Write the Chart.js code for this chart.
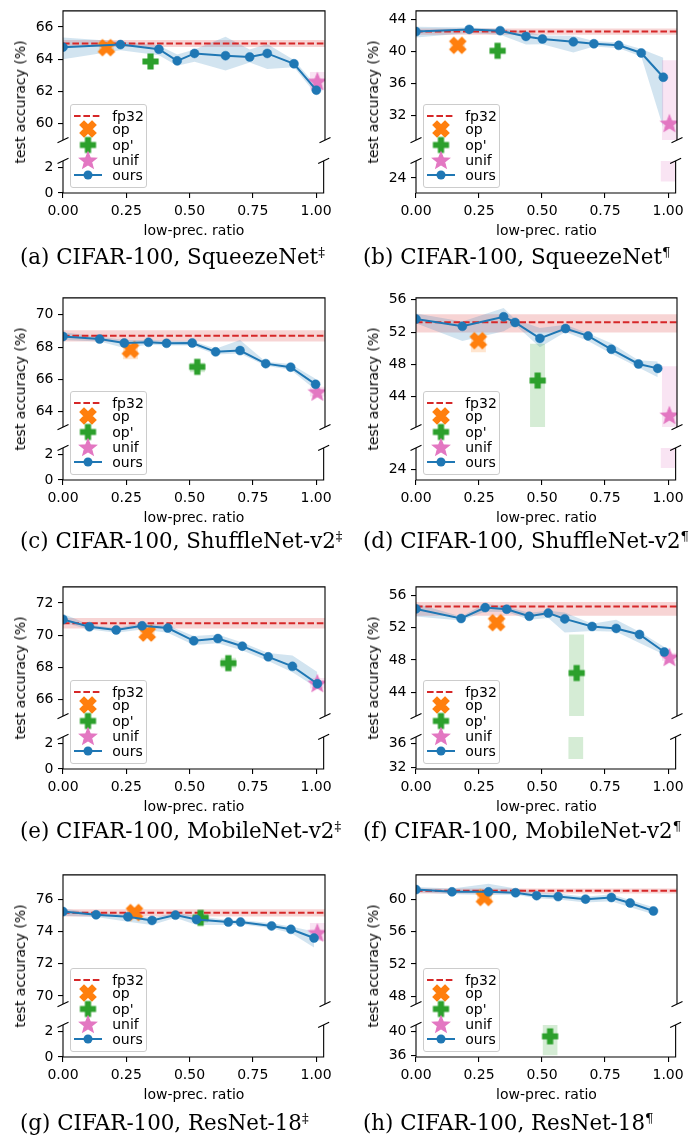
<!DOCTYPE html>
<html>
<head>
<meta charset="utf-8">
<script src="https://cdn.jsdelivr.net/npm/chart.js@4.4.1/dist/chart.umd.min.js"></script>
<style>
html,body{margin:0;padding:0;background:#fff;}
#fig{position:relative;width:690px;height:1141px;overflow:hidden;background:#fff;}
#fig canvas{position:absolute;}
.lbl{position:absolute;font-family:"DejaVu Sans";font-size:14px;color:#000;white-space:nowrap;line-height:1;}
.cap{position:absolute;font-family:"DejaVu Serif";white-space:nowrap;line-height:1;color:#000;}
.cap sup{font-size:0.62em;vertical-align:0.55em;line-height:0;}
.leg{position:absolute;border:1px solid #cccccc;border-radius:3px;background:rgba(255,255,255,0.8);box-sizing:border-box;}
.leg span{position:absolute;font-family:"DejaVu Sans";font-size:14px;line-height:16px;white-space:nowrap;color:#000;}
.leg canvas{position:absolute !important;}
</style>
</head>
<body>
<div id="fig"></div>
<script>
// ---------------- data ----------------
const XMIN = 0, XMAX = 1.03;
const xTicks = [0, 0.25, 0.5, 0.75, 1.0];
const legendLabels = ['fp32', 'op', "op'", 'unif', 'ours'];
const captionTexts = ['(a) CIFAR-100, SqueezeNet', '(b) CIFAR-100, SqueezeNet',
  '(c) CIFAR-100, ShuffleNet-v2', '(d) CIFAR-100, ShuffleNet-v2',
  '(e) CIFAR-100, MobileNet-v2', '(f) CIFAR-100, MobileNet-v2',
  '(g) CIFAR-100, ResNet-18', '(h) CIFAR-100, ResNet-18'];
const captionMarks = ['\u2021', '\u00b6', '\u2021', '\u00b6', '\u2021', '\u00b6', '\u2021', '\u00b6'];
const yTitle = 'test accuracy (%)';
const xTitle = 'low-prec. ratio';

// (a) SqueezeNet ‡
const ratioA  = [0, 0.226, 0.377, 0.449, 0.517, 0.639, 0.734, 0.803, 0.908, 0.996];
const oursA   = [64.75, 64.91, 64.62, 63.90, 64.36, 64.22, 64.14, 64.36, 63.72, 62.08];
const oursLoA = [64.0, 64.55, 64.25, 63.6, 63.85, 63.3, 63.8, 63.4, 63.5, 61.8];
const oursHiA = [65.35, 65.1, 64.85, 64.3, 64.6, 65.4, 64.6, 64.95, 63.95, 62.35];
const fp32A   = [64.98, 64.76, 65.2];          // mean, lo, hi
const opA     = [0.171, 64.72, 64.55, 64.9];   // x, y, lo, hi
const opPA    = [0.344, 63.86, 63.75, 63.97];
const unifA   = [1.0, 62.64, 62.1, 63.2];
const topRangeA = [58.98, 67.0], botRangeA = [0, 2.5];
const topTicksA = [60, 62, 64, 66], botTicksA = [0, 2];

// (b) SqueezeNet ¶
const ratioB  = [0, 0.21, 0.332, 0.434, 0.499, 0.621, 0.702, 0.80, 0.889, 0.976];
const oursB   = [42.48, 42.76, 42.6, 41.88, 41.56, 41.2, 40.96, 40.76, 39.8, 36.76];
const oursLoB = [41.75, 42.3, 42.1, 40.85, 40.9, 39.85, 40.6, 40.4, 39.35, 30.4];
const oursHiB = [43.1, 43.0, 42.85, 42.5, 42.0, 41.95, 41.3, 41.1, 40.3, 39.2];
const fp32B   = [42.48, 42.08, 42.88];
const opB     = [0.165, 40.76, 40.5, 41.0];
const opPB    = [0.322, 40.08, 39.9, 40.25];
const unifB   = [1.0, 31.0, 23.5, 38.9];
const topRangeB = [28.87, 45.08], botRangeB = [21.9, 26.4];
const topTicksB = [32, 36, 40, 44], botTicksB = [24];

// (c) ShuffleNet-v2 ‡
const ratioC  = [0, 0.144, 0.241, 0.336, 0.407, 0.508, 0.600, 0.696, 0.797, 0.895, 0.993];
const oursC   = [68.66, 68.5, 68.26, 68.30, 68.24, 68.26, 67.71, 67.79, 66.98, 66.76, 65.70];
const oursLoC = [68.45, 68.35, 67.95, 68.15, 68.1, 68.1, 67.55, 67.6, 66.85, 66.6, 65.35];
const oursHiC = [68.93, 68.65, 68.45, 68.45, 68.4, 68.4, 67.9, 68.45, 67.1, 66.95, 66.05];
const fp32C   = [68.70, 68.35, 69.05];
const opC     = [0.265, 67.85, 67.25, 68.25];
const opPC    = [0.528, 66.78, 66.45, 67.05];
const unifC   = [1.0, 65.24, 64.95, 65.55];
const topRangeC = [63.05, 71.05], botRangeC = [0, 2.5];
const topTicksC = [64, 66, 68, 70], botTicksC = [0, 2];

// (d) ShuffleNet-v2 ¶
const ratioD  = [0, 0.183, 0.346, 0.391, 0.489, 0.59, 0.679, 0.771, 0.878, 0.954];
const oursD   = [53.62, 52.71, 53.9, 53.19, 51.21, 52.44, 51.52, 49.86, 48.04, 47.49];
const oursLoD = [53.1, 50.9, 52.1, 52.9, 50.1, 52.0, 50.9, 49.3, 47.6, 46.4];
const oursHiD = [54.3, 53.3, 55.0, 53.6, 52.5, 52.9, 51.85, 50.6, 48.5, 48.35];
const fp32D   = [53.23, 51.95, 54.2];
const opD     = [0.246, 50.93, 49.5, 51.55];
const opPD    = [0.48, 45.98, 38.5, 50.55];
const unifD   = [1.0, 41.7, 24.15, 47.76];
const topRangeD = [40.2, 56.24], botRangeD = [22.5, 26.9];
const topTicksD = [44, 48, 52, 56], botTicksD = [24];

// (e) MobileNet-v2 ‡
const ratioE  = [0, 0.104, 0.209, 0.311, 0.412, 0.514, 0.609, 0.705, 0.807, 0.902, 1.0];
const oursE   = [70.97, 70.52, 70.32, 70.58, 70.44, 69.65, 69.79, 69.32, 68.66, 68.07, 66.99];
const oursLoE = [70.78, 70.35, 70.15, 70.35, 70.15, 69.4, 69.5, 69.05, 68.4, 67.7, 66.72];
const oursHiE = [71.33, 70.65, 70.45, 70.75, 70.6, 69.95, 70.05, 69.55, 68.9, 68.75, 67.72];
const fp32E   = [70.74, 70.42, 71.07];
const opE     = [0.331, 70.13, 69.95, 70.3];
const opPE    = [0.65, 68.27, 67.95, 68.6];
const unifE   = [1.0, 67.03, 66.7, 67.35];
const topRangeE = [64.99, 72.99], botRangeE = [0, 2.5];
const topTicksE = [66, 68, 70, 72], botTicksE = [0, 2];

// (f) MobileNet-v2 ¶
const ratioF  = [0, 0.178, 0.273, 0.358, 0.447, 0.522, 0.587, 0.695, 0.79, 0.882, 0.98];
const oursF   = [54.34, 53.15, 54.5, 54.3, 53.43, 53.82, 53.1, 52.16, 51.92, 51.17, 48.99];
const oursLoF = [53.4, 52.9, 54.0, 53.95, 53.0, 53.2, 51.4, 51.6, 51.5, 50.1, 48.65];
const oursHiF = [55.0, 53.4, 55.0, 54.6, 53.85, 54.1, 53.9, 52.5, 53.0, 51.5, 49.6];
const fp32F   = [54.65, 53.5, 55.2];
const opF     = [0.318, 52.63, 52.2, 53.0];
const opPF    = [0.634, 46.38, 33.45, 51.17];
const unifF   = [1.0, 48.36, 47.9, 48.9];
const topRangeF = [41.04, 57.07], botRangeF = [31.8, 37.15];
const topTicksF = [44, 48, 52, 56], botTicksF = [32, 36];

// (g) ResNet-18 ‡
const ratioG  = [0, 0.13, 0.255, 0.35, 0.442, 0.525, 0.65, 0.698, 0.82, 0.896, 0.987];
const oursG   = [75.23, 75.03, 74.91, 74.68, 75.01, 74.74, 74.58, 74.58, 74.34, 74.13, 73.59];
const oursLoG = [74.97, 74.9, 74.6, 74.4, 74.85, 74.4, 74.4, 74.45, 74.2, 73.9, 73.0];
const oursHiG = [75.4, 75.15, 75.05, 74.85, 75.15, 74.95, 74.7, 74.7, 74.5, 74.3, 74.0];
const fp32G   = [75.15, 74.93, 75.37];
const opG     = [0.281, 75.17, 74.85, 75.45];
const opPG    = [0.541, 74.84, 74.55, 75.1];
const unifG   = [1.0, 73.93, 73.4, 74.52];
const topRangeG = [69.5, 77.5], botRangeG = [0, 2.5];
const topTicksG = [70, 72, 74, 76], botTicksG = [0, 2];

// (h) ResNet-18 ¶
const ratioH  = [0, 0.142, 0.286, 0.393, 0.476, 0.561, 0.669, 0.771, 0.845, 0.937];
const oursH   = [61.18, 60.9, 60.9, 60.79, 60.43, 60.31, 60.0, 60.2, 59.53, 58.54];
const oursLoH = [60.85, 60.6, 60.5, 60.55, 60.1, 59.95, 59.6, 59.75, 59.0, 58.15];
const oursHiH = [61.5, 61.3, 61.9, 61.3, 60.85, 60.7, 60.3, 60.6, 59.9, 59.0];
const fp32H   = [61.02, 60.7, 61.3];
const opH     = [0.27, 60.2, 59.75, 60.65];
const opPH    = [0.532, 39.15, 36.1, 41.04];
const unifH   = null;
const topRangeH = [47.05, 62.99], botRangeH = [35.8, 41.0];
const topTicksH = [48, 52, 56, 60], botTicksH = [36, 40];

// ---------------- styling / layout ----------------
const BLUE = '#1f77b4', ORANGE = '#ff7f0e', GREEN = '#2ca02c', PINK = '#e377c2', RED = '#d62728';
const BLUE_A = 'rgba(31,119,180,0.2)', RED_A = 'rgba(214,39,40,0.2)', ORANGE_A = 'rgba(255,127,14,0.2)',
      GREEN_A = 'rgba(44,160,44,0.2)', PINK_A = 'rgba(227,119,194,0.2)';
const RECT_HALF = 0.03;
const DASH = [6.6, 2.8];
const DOT_R = 4.5;
const COLS = [{L: 63, R: 325, capX: 20}, {L: 416, R: 677, capX: 363}];
const ROW_T = [10, 297, 586, 874];
const CAP_Y = [256.7, 541, 831, 1123];
const H1 = 135, GAP = 11, H2 = 37;
const YW = 52, PT = 12, PR = 12, PB = 8, PT2 = 8, XH = 30;
const FONT = 'DejaVu Sans';

const panels = [
  {ratio: ratioA, ours: oursA, lo: oursLoA, hi: oursHiA, fp32: fp32A, op: opA, opP: opPA, unif: unifA, topRange: topRangeA, botRange: botRangeA, topTicks: topTicksA, botTicks: botTicksA},
  {ratio: ratioB, ours: oursB, lo: oursLoB, hi: oursHiB, fp32: fp32B, op: opB, opP: opPB, unif: unifB, topRange: topRangeB, botRange: botRangeB, topTicks: topTicksB, botTicks: botTicksB},
  {ratio: ratioC, ours: oursC, lo: oursLoC, hi: oursHiC, fp32: fp32C, op: opC, opP: opPC, unif: unifC, topRange: topRangeC, botRange: botRangeC, topTicks: topTicksC, botTicks: botTicksC},
  {ratio: ratioD, ours: oursD, lo: oursLoD, hi: oursHiD, fp32: fp32D, op: opD, opP: opPD, unif: unifD, topRange: topRangeD, botRange: botRangeD, topTicks: topTicksD, botTicks: botTicksD},
  {ratio: ratioE, ours: oursE, lo: oursLoE, hi: oursHiE, fp32: fp32E, op: opE, opP: opPE, unif: unifE, topRange: topRangeE, botRange: botRangeE, topTicks: topTicksE, botTicks: botTicksE},
  {ratio: ratioF, ours: oursF, lo: oursLoF, hi: oursHiF, fp32: fp32F, op: opF, opP: opPF, unif: unifF, topRange: topRangeF, botRange: botRangeF, topTicks: topTicksF, botTicks: botTicksF},
  {ratio: ratioG, ours: oursG, lo: oursLoG, hi: oursHiG, fp32: fp32G, op: opG, opP: opPG, unif: unifG, topRange: topRangeG, botRange: botRangeG, topTicks: topTicksG, botTicks: botTicksG},
  {ratio: ratioH, ours: oursH, lo: oursLoH, hi: oursHiH, fp32: fp32H, op: opH, opP: opPH, unif: unifH, topRange: topRangeH, botRange: botRangeH, topTicks: topTicksH, botTicks: botTicksH}
];

// ---------------- markers ----------------
function makeMarker(kind, color, size) {
  const S = Math.ceil(size) + 4;
  const c = document.createElement('canvas');
  c.width = S; c.height = S;
  const g = c.getContext('2d');
  g.translate(S / 2, S / 2);
  g.fillStyle = color; g.strokeStyle = color; g.lineWidth = 1.2; g.lineJoin = 'miter';
  g.beginPath();
  if (kind === 'star') {
    const R = size / 2, r = R * 0.43;
    for (let i = 0; i < 10; i++) {
      const ang = -Math.PI / 2 + i * Math.PI / 5;
      const rr = i % 2 ? r : R;
      const px = rr * Math.cos(ang), py = rr * Math.sin(ang) + R * 0.1;
      if (i) g.lineTo(px, py); else g.moveTo(px, py);
    }
  } else {
    let h, a;
    if (kind === 'X') { g.rotate(Math.PI / 4); h = size * 0.53; a = h / 3; }
    else { h = size / 2; a = h / 3; }
    const pts = [[-a,-h],[a,-h],[a,-a],[h,-a],[h,a],[a,a],[a,h],[-a,h],[-a,a],[-h,a],[-h,-a],[-a,-a]];
    pts.forEach(([x, y], i) => { if (i) g.lineTo(x, y); else g.moveTo(x, y); });
  }
  g.closePath(); g.fill(); g.stroke();
  return c;
}
const MK_X = makeMarker('X', ORANGE, 16);
const MK_P = makeMarker('P', GREEN, 15);
const MK_S = makeMarker('star', PINK, 17.5);

// ---------------- plugins ----------------
const framePlugin = {
  id: 'frame',
  afterDraw(chart, args, opts) {
    const {ctx, chartArea: a} = chart;
    ctx.save();
    ctx.strokeStyle = '#000'; ctx.lineWidth = 1.1; ctx.setLineDash([]);
    ctx.beginPath();
    if (opts.top) {
      ctx.moveTo(a.left, a.bottom); ctx.lineTo(a.left, a.top); ctx.lineTo(a.right, a.top); ctx.lineTo(a.right, a.bottom);
    } else {
      ctx.moveTo(a.left, a.top); ctx.lineTo(a.left, a.bottom); ctx.lineTo(a.right, a.bottom); ctx.lineTo(a.right, a.top);
    }
    ctx.stroke();
    const y = opts.top ? a.bottom : a.top;
    ctx.beginPath();
    [a.left, a.right].forEach(x => { ctx.moveTo(x - 5.5, y + 2.7); ctx.lineTo(x + 5.5, y - 2.7); });
    ctx.stroke();
    ctx.restore();
  }
};

// ---------------- datasets ----------------
function buildDatasets(p) {
  const ds = [];
  const bandPair = (xs, lo, hi, color, order) => {
    ds.push({data: xs.map((x, i) => ({x, y: lo[i]})), borderColor: 'rgba(0,0,0,0)', borderWidth: 1,
             pointRadius: 0, fill: false, order, clip: 0});
    ds.push({data: xs.map((x, i) => ({x, y: hi[i]})), borderColor: 'rgba(0,0,0,0)', borderWidth: 1,
             pointRadius: 0, fill: '-1', backgroundColor: color, order, clip: 0});
  };
  bandPair([XMIN, XMAX], [p.fp32[1], p.fp32[1]], [p.fp32[2], p.fp32[2]], RED_A, 30);
  bandPair(p.ratio, p.lo, p.hi, BLUE_A, 29);
  const marks = [[p.op, ORANGE_A, MK_X, 6], [p.opP, GREEN_A, MK_P, 5], [p.unif, PINK_A, MK_S, 4]];
  marks.forEach(([m, fillC]) => {
    if (!m) return;
    bandPair([m[0] - RECT_HALF, m[0] + RECT_HALF], [m[2], m[2]], [m[3], m[3]], fillC, 28);
  });
  ds.push({data: [{x: XMIN, y: p.fp32[0]}, {x: XMAX, y: p.fp32[0]}], borderColor: RED, borderWidth: 2,
           borderDash: DASH, pointRadius: 0, fill: false, order: 10, clip: 0});
  marks.forEach(([m, fillC, img, ord]) => {
    if (!m) return;
    ds.push({data: [{x: m[0], y: m[1]}], showLine: false, pointStyle: img, pointRadius: 8,
             fill: false, order: ord, clip: 0});
  });
  ds.push({data: p.ratio.map((x, i) => ({x, y: p.ours[i]})), borderColor: BLUE, borderWidth: 2,
           pointStyle: 'circle', pointRadius: DOT_R, pointBackgroundColor: BLUE, pointBorderColor: BLUE,
           pointBorderWidth: 0.5, fill: false, order: 1, clip: 0});
  return ds;
}

// ---------------- charts ----------------
Chart.defaults.font.family = FONT;
Chart.defaults.font.size = 14;
Chart.defaults.color = '#000';
const fig = document.getElementById('fig');

function makeCanvas(left, top, w, h) {
  const c = document.createElement('canvas');
  c.width = w; c.height = h;
  c.style.left = left + 'px'; c.style.top = top + 'px';
  c.style.width = w + 'px'; c.style.height = h + 'px';
  fig.appendChild(c);
  return c;
}

function makeChart(canvas, p, isTop) {
  const range = isTop ? p.topRange : p.botRange;
  const yt = isTop ? p.topTicks : p.botTicks;
  const gridOpt = {display: true, drawOnChartArea: false, drawTicks: true, tickLength: 5,
                   color: '#000', tickColor: '#000', tickWidth: 1.1, lineWidth: 1.1};
  return new Chart(canvas, {
    type: 'line',
    data: {datasets: buildDatasets(p)},
    options: {
      responsive: false, animation: false, events: [],
      layout: {padding: isTop ? {top: PT, right: PR, bottom: PB, left: 0} : {top: PT2, right: PR, bottom: 0, left: 0}},
      elements: {line: {tension: 0}},
      plugins: {legend: {display: false}, tooltip: {enabled: false}, frame: {top: isTop}},
      scales: {
        x: {type: 'linear', min: XMIN, max: XMAX, display: !isTop,
            afterBuildTicks: s => { s.ticks = xTicks.map(v => ({value: v})); },
            afterFit: s => { s.height = isTop ? 0 : XH; },
            grid: gridOpt, border: {display: false},
            ticks: {color: '#000', font: {family: FONT, size: 14}, padding: 5, maxRotation: 0, autoSkip: false,
                    callback: v => Number(v).toFixed(2)}},
        y: {type: 'linear', min: range[0], max: range[1],
            afterBuildTicks: s => { s.ticks = yt.map(v => ({value: v})); },
            afterFit: s => { s.width = YW; },
            grid: gridOpt, border: {display: false},
            ticks: {color: '#000', font: {family: FONT, size: 14}, padding: 4.5, autoSkip: false,
                    callback: v => String(v)}}
      }
    },
    plugins: [framePlugin]
  });
}

function addLabel(text, cx, cy, rotate) {
  const d = document.createElement('div');
  d.className = 'lbl';
  d.textContent = text;
  d.style.left = cx + 'px'; d.style.top = cy + 'px';
  d.style.transform = 'translate(-50%,-50%)' + (rotate ? ' rotate(-90deg)' : '');
  fig.appendChild(d);
}

function legendIcon(kind) {
  const c = document.createElement('canvas');
  c.width = 32; c.height = 20;
  const g = c.getContext('2d');
  if (kind === 0) {
    g.strokeStyle = RED; g.lineWidth = 2; g.setLineDash(DASH);
    g.beginPath(); g.moveTo(2, 10); g.lineTo(30, 10); g.stroke();
  } else if (kind === 4) {
    g.strokeStyle = BLUE; g.lineWidth = 2;
    g.beginPath(); g.moveTo(2, 10); g.lineTo(30, 10); g.stroke();
    g.fillStyle = BLUE; g.beginPath(); g.arc(16, 10, DOT_R, 0, Math.PI * 2); g.fill();
  } else {
    const img = [null, MK_X, MK_P, MK_S][kind];
    g.drawImage(img, 16 - img.width / 2, 10 - img.height / 2);
  }
  return c;
}

const legRowY = [12.3, 25.3, 40.6, 56, 71.3];
const capSpans = [];

panels.forEach((p, idx) => {
  const col = COLS[idx % 2];
  const row = Math.floor(idx / 2);
  const T = ROW_T[row];
  const L = col.L, R = col.R;
  const w = R - L + YW + PR;
  const cTop = makeCanvas(L - YW, T - PT, w, PT + H1 + PB);
  makeChart(cTop, p, true);
  const cBot = makeCanvas(L - YW, T + H1 + GAP - PT2, w, PT2 + H2 + XH);
  makeChart(cBot, p, false);

  const frameBottom = T + H1 + GAP + H2;
  addLabel(yTitle, L - 42.7, T + (H1 + GAP + H2) / 2, true);
  addLabel(xTitle, (L + R) / 2, frameBottom + 37.2, false);

  // legend
  const leg = document.createElement('div');
  leg.className = 'leg';
  leg.style.left = (L + 6.7) + 'px';
  leg.style.top = (frameBottom - 5 - 84) + 'px';
  leg.style.width = '77.5px'; leg.style.height = '84px';
  legendLabels.forEach((lab, k) => {
    const ic = legendIcon(k);
    ic.style.left = '1px'; ic.style.top = (legRowY[k] - 10 - 1) + 'px';
    ic.style.width = '32px'; ic.style.height = '20px';
    leg.appendChild(ic);
    const s = document.createElement('span');
    s.textContent = lab;
    s.style.left = '41.5px'; s.style.top = (legRowY[k] - 8 - 1) + 'px';
    leg.appendChild(s);
  });
  fig.appendChild(leg);

  // caption
  const cap = document.createElement('div');
  cap.className = 'cap';
  cap.style.left = col.capX + 'px';
  cap.style.top = CAP_Y[row] + 'px';
  cap.style.transform = 'translateY(-50%)';
  cap.style.fontSize = '20px';
  cap.appendChild(document.createTextNode(captionTexts[idx]));
  const sup = document.createElement('sup');
  sup.textContent = captionMarks[idx];
  cap.appendChild(sup);
  fig.appendChild(cap);
  capSpans.push(cap);
});

// fit caption font size to the reference width of caption (a)
const w0 = capSpans[0].getBoundingClientRect().width;
const fs = 20 * 305 / w0;
capSpans.forEach(c => { c.style.fontSize = fs.toFixed(2) + 'px'; });
</script>
</body>
</html>
